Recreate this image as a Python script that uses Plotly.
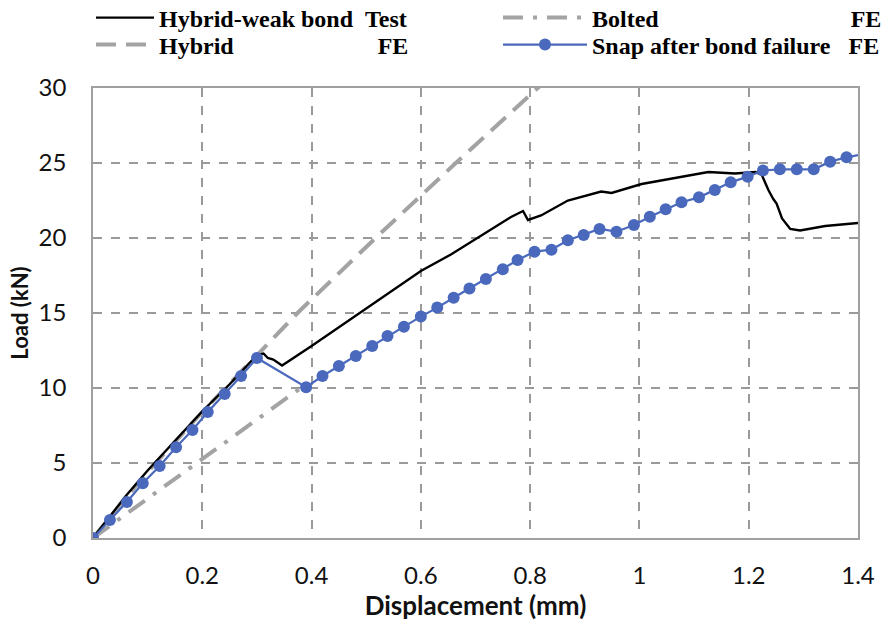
import plotly.graph_objects as go

# ---- data ----
test_x = [0, 0.03, 0.06, 0.1, 0.15, 0.2, 0.25, 0.29, 0.3, 0.312, 0.32, 0.33, 0.346, 0.4, 0.472,
          0.533, 0.6, 0.655, 0.716, 0.765, 0.787, 0.796, 0.82, 0.869, 0.93, 0.949, 1.004, 1.065,
          1.126, 1.175, 1.212, 1.224, 1.236, 1.245, 1.251, 1.261, 1.276, 1.294, 1.34, 1.4]
test_y = [0, 1.4, 2.8, 4.5, 6.5, 8.45, 10.25, 11.8, 12.2, 12.3, 12.0, 11.9, 11.5, 12.8, 14.6,
          16.1, 17.8, 18.9, 20.3, 21.4, 21.8, 21.2, 21.5, 22.5, 23.1, 23.0, 23.6, 24.0,
          24.4, 24.3, 24.4, 24.2, 23.2, 22.6, 22.3, 21.3, 20.6, 20.5, 20.8, 21.0]

hybrid_x = [0, 0.1, 0.2, 0.3, 0.377, 0.52, 0.667, 0.82]
hybrid_y = [0, 4.4, 8.4, 12.2, 15.1, 20.1, 25.1, 30.2]

bolted_x = [0, 0.38]
bolted_y = [0, 10.0]

snap_x = [0, 0.031, 0.062, 0.091, 0.122, 0.152, 0.182, 0.21, 0.241, 0.271, 0.3, 0.39, 0.42,
          0.45, 0.481, 0.511, 0.539, 0.569, 0.6, 0.63, 0.66, 0.689, 0.719, 0.75, 0.777, 0.808,
          0.839, 0.869, 0.898, 0.927, 0.958, 0.99, 1.019, 1.048, 1.077, 1.109, 1.138, 1.167,
          1.198, 1.226, 1.257, 1.288, 1.319, 1.349, 1.379]
snap_y = [0, 1.2, 2.4, 3.65, 4.8, 6.05, 7.2, 8.4, 9.6, 10.8, 12.0, 10.05, 10.8,
          11.47, 12.13, 12.8, 13.47, 14.09, 14.76, 15.36, 16.02, 16.64, 17.27, 17.91, 18.53, 19.09,
          19.22, 19.85, 20.2, 20.6, 20.42, 20.87, 21.42, 21.91, 22.38, 22.71, 23.2, 23.71,
          24.09, 24.5, 24.58, 24.58, 24.58, 25.09, 25.38]
snap_tail_x = [1.379, 1.4]
snap_tail_y = [25.38, 25.53]

x_ticks = [0, 0.2, 0.4, 0.6, 0.8, 1, 1.2, 1.4]
x_tick_text = ["0", "0.2", "0.4", "0.6", "0.8", "1", "1.2", "1.4"]
y_ticks = [0, 5, 10, 15, 20, 25, 30]

NB = "\u00a0"
name_test = "Hybrid-weak bond" + NB * 2 + "Test"
name_hybrid = "Hybrid" + NB * 24 + "FE"
name_bolted = "Bolted" + NB * 32 + "FE"
name_snap = "Snap after bond failure" + NB * 3 + "FE"

BLUE = "#4a69bd"
GRAY = "#a3a3a3"

fig = go.Figure()
fig.add_trace(go.Scatter(x=hybrid_x, y=hybrid_y, mode="lines", name=name_hybrid,
                         line=dict(color=GRAY, width=4, dash="20px,10px"), legend="legend2"))
fig.add_trace(go.Scatter(x=bolted_x, y=bolted_y, mode="lines", name=name_bolted,
                         line=dict(color=GRAY, width=4, dash="20px,10px,4px,10px"), legend="legend3"))
fig.add_trace(go.Scatter(x=test_x, y=test_y, mode="lines", name=name_test,
                         line=dict(color="black", width=2.4), legend="legend"))
fig.add_trace(go.Scatter(x=snap_tail_x, y=snap_tail_y, mode="lines", showlegend=False,
                         line=dict(color=BLUE, width=2.2), hoverinfo="skip"))
fig.add_trace(go.Scatter(x=snap_x, y=snap_y, mode="lines+markers", name=name_snap,
                         line=dict(color=BLUE, width=2.2),
                         marker=dict(color=BLUE, size=12), legend="legend4"))

leg_font = dict(family="Liberation Serif", size=24, color="black", weight="bold")


def leg(xpx, ypx, iw):
    return dict(orientation="h", xref="container", yref="container",
                x=xpx / 885, y=1 - ypx / 621, xanchor="left", yanchor="middle",
                font=leg_font, itemwidth=iw, bgcolor="rgba(0,0,0,0)")


fig.update_layout(
    width=885, height=621,
    margin=dict(l=93, r=27, t=88, b=83, autoexpand=False),
    paper_bgcolor="white", plot_bgcolor="white",
    legend=leg(91, 18, 58),
    legend2=leg(91, 45, 58),
    legend3=leg(498, 18, 84),
    legend4=leg(498, 45, 84),
    xaxis=dict(range=[0, 1.4], tickvals=x_ticks, ticktext=x_tick_text,
               showgrid=True, gridcolor="#9a9a9a", griddash="dash", gridwidth=1.5,
               showline=True, linecolor="#a0a0a0", linewidth=1.5, mirror=True,
               zeroline=False, ticks="", ticklabelstandoff=15,
               tickfont=dict(family="Lato", size=24, color="#111"),
               title=dict(text="<b>Displacement (mm)</b>", standoff=12,
                          font=dict(family="Lato", size=26, color="#111"))),
    yaxis=dict(range=[0, 30], tickvals=y_ticks,
               showgrid=True, gridcolor="#9a9a9a", griddash="dash", gridwidth=1.5,
               showline=True, linecolor="#a0a0a0", linewidth=1.5, mirror=True,
               zeroline=False, ticks="", ticklabelstandoff=20,
               tickfont=dict(family="Lato", size=24, color="#111"),
               title=dict(text="<b>Load (kN)</b>", standoff=4,
                          font=dict(family="Lato", size=22, color="#111"))),
)
fig.write_html("out.html")
